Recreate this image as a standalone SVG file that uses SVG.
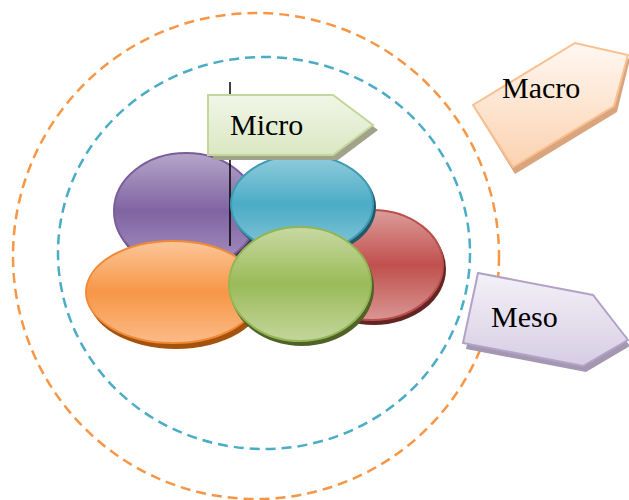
<svg xmlns="http://www.w3.org/2000/svg" width="629" height="500" viewBox="0 0 629 500">
<defs>
<linearGradient id="gPur" x1="0" y1="0" x2="0" y2="1"><stop offset="0" stop-color="#b5a5c9"/><stop offset="0.5" stop-color="#8064a2"/><stop offset="1" stop-color="#a893c0"/></linearGradient>
<linearGradient id="gBlu" x1="0" y1="0" x2="0" y2="1"><stop offset="0" stop-color="#93cddd"/><stop offset="0.5" stop-color="#4bacc6"/><stop offset="1" stop-color="#86c6d8"/></linearGradient>
<linearGradient id="gRed" x1="0" y1="0" x2="0" y2="1"><stop offset="0" stop-color="#dc9d9b"/><stop offset="0.5" stop-color="#c0504d"/><stop offset="1" stop-color="#d99694"/></linearGradient>
<linearGradient id="gOra" x1="0" y1="0" x2="0" y2="1"><stop offset="0" stop-color="#fbc699"/><stop offset="0.5" stop-color="#f79646"/><stop offset="1" stop-color="#fabb88"/></linearGradient>
<linearGradient id="gGre" x1="0" y1="0" x2="0" y2="1"><stop offset="0" stop-color="#c7d9a2"/><stop offset="0.5" stop-color="#9bbb59"/><stop offset="1" stop-color="#c3d69b"/></linearGradient>
<linearGradient id="gMic" x1="0" y1="0" x2="0" y2="1"><stop offset="0" stop-color="#f1f6e7"/><stop offset="1" stop-color="#dbe7c3"/></linearGradient>
<linearGradient id="gMac" x1="0" y1="0" x2="0" y2="1"><stop offset="0" stop-color="#fff8f2"/><stop offset="1" stop-color="#fbd2b0"/></linearGradient>
<linearGradient id="gMes" x1="0" y1="0" x2="0" y2="1"><stop offset="0" stop-color="#f4f1f8"/><stop offset="1" stop-color="#d6cde3"/></linearGradient>
</defs>
<style>
.ring{fill:none;stroke-width:2.5;stroke-dasharray:10 6}
.lbl{font-family:'Liberation Serif','DejaVu Serif',serif;font-size:30px;fill:#000}
.ell{stroke-width:2}
</style>
<g id="rings">
<circle class="ring" cx="256" cy="256" r="243" stroke="#f79646"/>
<ellipse class="ring" cx="264" cy="253" rx="206" ry="196" stroke="#4bacc6"/>
</g>
<g id="purple">
<ellipse cx="188" cy="214" rx="73" ry="59" fill="#3f3151"/>
<ellipse class="ell" cx="186" cy="211" rx="72" ry="58" fill="url(#gPur)" stroke="#7a5e9c"/>
</g>
<g id="red">
<ellipse cx="374" cy="269" rx="72" ry="56" fill="#632523"/>
<ellipse class="ell" cx="372" cy="265" rx="71" ry="55" fill="url(#gRed)" stroke="#b9504d"/>
</g>
<g id="connectors">
<line x1="230" y1="82" x2="230" y2="246" stroke="#000" stroke-width="1.5"/>
</g>
<g id="blue">
<ellipse cx="304" cy="207" rx="72" ry="50" fill="#215968"/>
<ellipse class="ell" cx="302" cy="204" rx="71" ry="49" fill="url(#gBlu)" stroke="#3f9bb4"/>
</g>
<g id="orange">
<ellipse cx="176" cy="296" rx="88" ry="53" fill="#a5520c"/>
<ellipse class="ell" cx="173" cy="292" rx="87" ry="51" fill="url(#gOra)" stroke="#f08a36"/>
</g>
<g id="green">
<ellipse cx="302" cy="288" rx="72" ry="58" fill="#4f6228"/>
<ellipse class="ell" cx="300" cy="284" rx="71" ry="57" fill="url(#gGre)" stroke="#94b554"/>
</g>
<g id="micro">
<polygon points="213,100 338,100 378,130 338,160 213,160" fill="#a0a38a"/>
<polygon points="208,95 333,95 373,125 333,155 208,155" fill="url(#gMic)" stroke="#c3d69b" stroke-width="2"/>
<text class="lbl" x="230" y="135">Micro</text>
</g>
<g id="macro">
<polygon points="476,111 578,49 630,59 617,112 515,174" fill="#d9a57e"/>
<polygon points="473,105 575,43 628,55 614,106 513,167" fill="url(#gMac)" stroke="#fac090" stroke-width="2"/>
<text class="lbl" x="502" y="98">Macro</text>
</g>
<g id="meso">
<polygon points="466,349 481,279 596,301 630,346 586,372" fill="#a397b2"/>
<polygon points="463,343 478,273 593,295 628,340 583,366" fill="url(#gMes)" stroke="#b3a2c7" stroke-width="2"/>
<text class="lbl" x="491" y="327">Meso</text>
</g>
</svg>
